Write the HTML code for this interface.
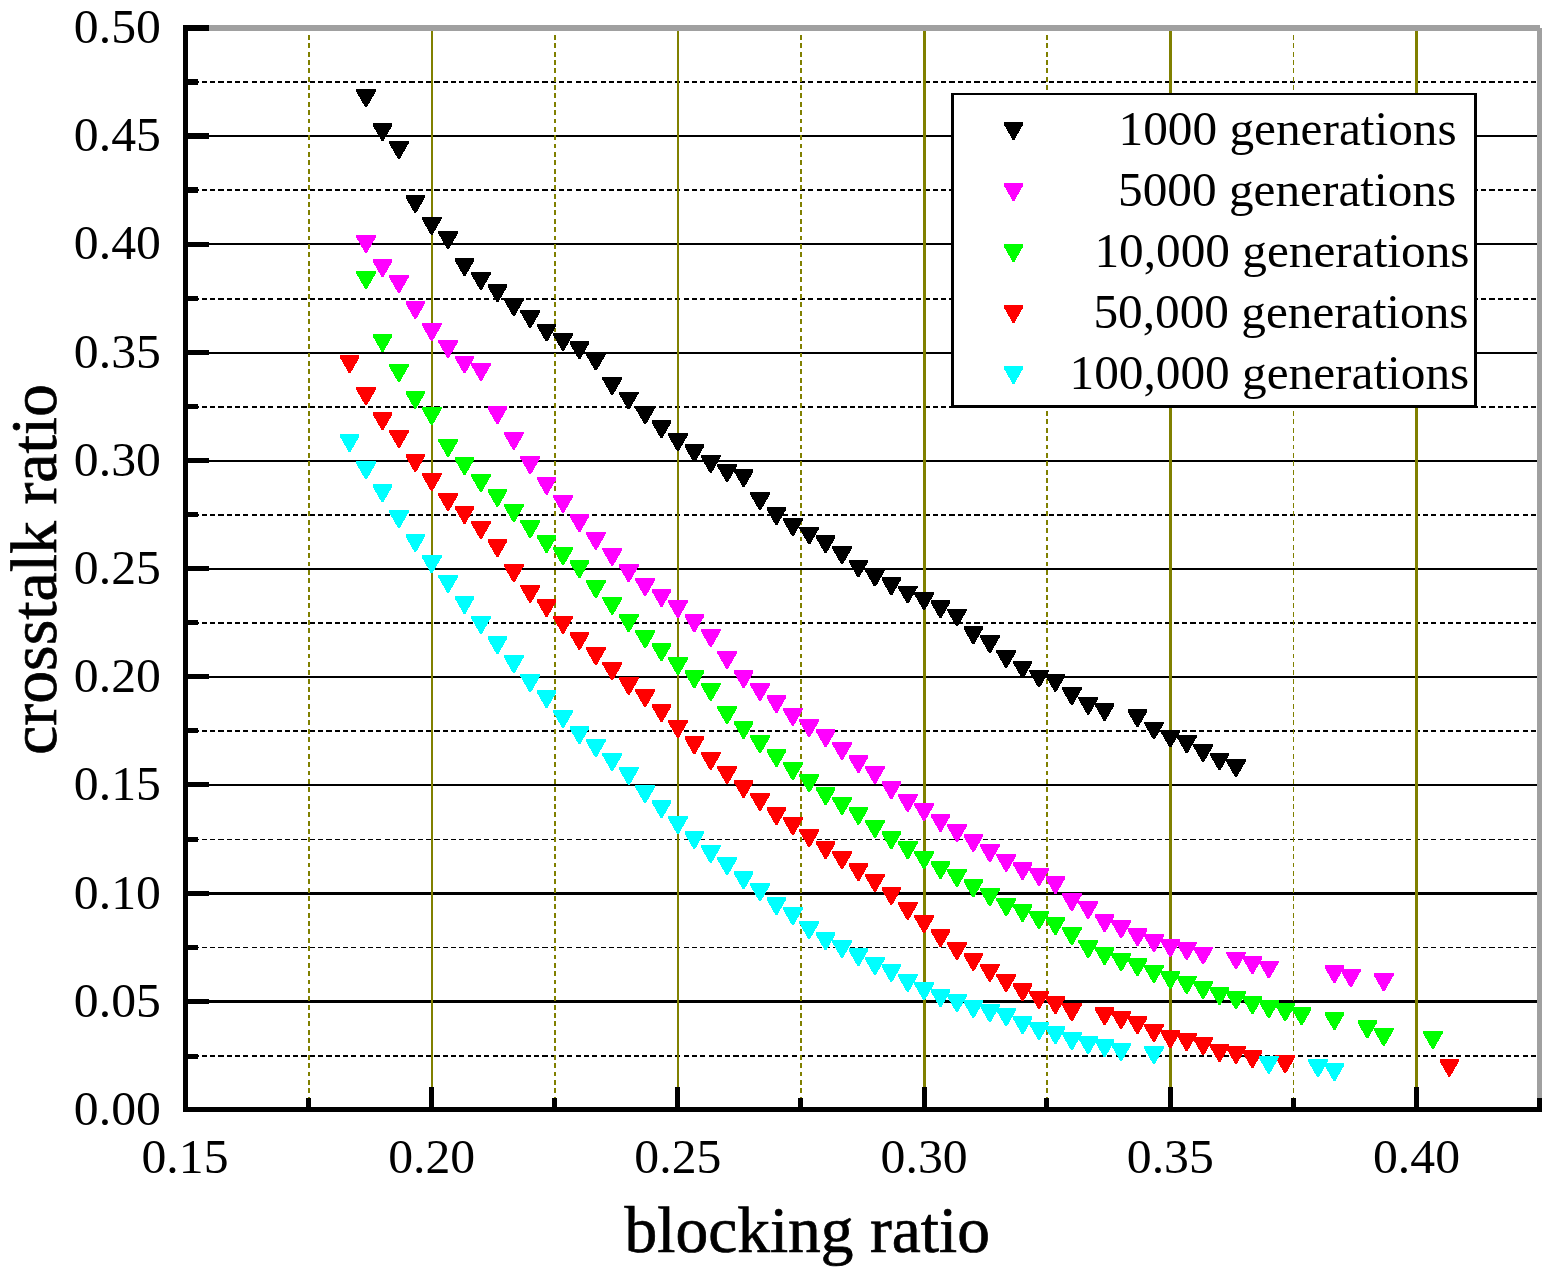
<!DOCTYPE html>
<html lang="en"><head><meta charset="utf-8"><title>crosstalk ratio vs blocking ratio</title>
<style>html,body{margin:0;padding:0;background:#fff;overflow:hidden}svg{display:block}text{font-family:"Liberation Serif",serif;fill:#000}</style></head><body>
<svg width="1551" height="1275" viewBox="0 0 1551 1275" role="img" aria-label="crosstalk ratio versus blocking ratio">
<rect x="0" y="0" width="1551" height="1275" fill="#fff"/>
<g shape-rendering="crispEdges" fill="none">
<line x1="193.5" y1="1056.0" x2="1536.2" y2="1056.0" stroke="#000" stroke-width="2" stroke-dasharray="5.1 3.2075"/>
<line x1="188" y1="1001.5" x2="1537" y2="1001.5" stroke="#000" stroke-width="3"/>
<line x1="193.5" y1="947.5" x2="1536.2" y2="947.5" stroke="#000" stroke-width="1" stroke-dasharray="5.1 3.2075"/>
<line x1="188" y1="893.5" x2="1537" y2="893.5" stroke="#000" stroke-width="3"/>
<line x1="193.5" y1="839.5" x2="1536.2" y2="839.5" stroke="#000" stroke-width="1" stroke-dasharray="5.1 3.2075"/>
<line x1="188" y1="785.0" x2="1537" y2="785.0" stroke="#000" stroke-width="2"/>
<line x1="193.5" y1="731.0" x2="1536.2" y2="731.0" stroke="#000" stroke-width="2" stroke-dasharray="5.1 3.2075"/>
<line x1="188" y1="677.0" x2="1537" y2="677.0" stroke="#000" stroke-width="2"/>
<line x1="193.5" y1="623.0" x2="1536.2" y2="623.0" stroke="#000" stroke-width="2" stroke-dasharray="5.1 3.2075"/>
<line x1="188" y1="569.0" x2="1537" y2="569.0" stroke="#000" stroke-width="2"/>
<line x1="193.5" y1="515.0" x2="1536.2" y2="515.0" stroke="#000" stroke-width="2" stroke-dasharray="5.1 3.2075"/>
<line x1="188" y1="461.0" x2="1537" y2="461.0" stroke="#000" stroke-width="2"/>
<line x1="193.5" y1="407.0" x2="1536.2" y2="407.0" stroke="#000" stroke-width="2" stroke-dasharray="5.1 3.2075"/>
<line x1="188" y1="353.0" x2="1537" y2="353.0" stroke="#000" stroke-width="2"/>
<line x1="193.5" y1="299.0" x2="1536.2" y2="299.0" stroke="#000" stroke-width="2" stroke-dasharray="5.1 3.2075"/>
<line x1="188" y1="244.0" x2="1537" y2="244.0" stroke="#000" stroke-width="2"/>
<line x1="193.5" y1="190.0" x2="1536.2" y2="190.0" stroke="#000" stroke-width="2" stroke-dasharray="5.1 3.2075"/>
<line x1="188" y1="136.0" x2="1537" y2="136.0" stroke="#000" stroke-width="2"/>
<line x1="193.5" y1="82.0" x2="1536.2" y2="82.0" stroke="#000" stroke-width="2" stroke-dasharray="5.1 3.2075"/>
<line x1="309.0" y1="26.55" x2="309.0" y2="1107" stroke="#808000" stroke-width="2" stroke-dasharray="4.9 3.46"/>
<line x1="432.0" y1="31" x2="432.0" y2="1107" stroke="#808000" stroke-width="2"/>
<line x1="555.0" y1="26.55" x2="555.0" y2="1107" stroke="#808000" stroke-width="2" stroke-dasharray="4.9 3.46"/>
<line x1="678.0" y1="31" x2="678.0" y2="1107" stroke="#808000" stroke-width="2"/>
<line x1="801.0" y1="26.55" x2="801.0" y2="1107" stroke="#808000" stroke-width="2" stroke-dasharray="4.9 3.46"/>
<line x1="924.5" y1="31" x2="924.5" y2="1107" stroke="#808000" stroke-width="3"/>
<line x1="1047.0" y1="26.55" x2="1047.0" y2="1107" stroke="#808000" stroke-width="2" stroke-dasharray="4.9 3.46"/>
<line x1="1170.5" y1="31" x2="1170.5" y2="1107" stroke="#808000" stroke-width="3"/>
<line x1="1293.5" y1="26.55" x2="1293.5" y2="1107" stroke="#808000" stroke-width="1" stroke-dasharray="4.9 3.46"/>
<line x1="1416.5" y1="31" x2="1416.5" y2="1107" stroke="#808000" stroke-width="3"/>
</g>
<g shape-rendering="crispEdges" stroke="none">
<g fill="#000000">
<polygon points="356.2,89.3 375.8,89.3 375.8,91.5 367.0,106.9 365.0,106.9 356.2,91.5"/>
<polygon points="372.7,123.3 392.3,123.3 392.3,125.5 383.5,140.9 381.5,140.9 372.7,125.5"/>
<polygon points="389.1,141.2 408.7,141.2 408.7,143.4 399.9,158.8 397.9,158.8 389.1,143.4"/>
<polygon points="405.5,195.2 425.1,195.2 425.1,197.4 416.3,212.8 414.3,212.8 405.5,197.4"/>
<polygon points="421.9,217.0 441.5,217.0 441.5,219.2 432.7,234.6 430.7,234.6 421.9,219.2"/>
<polygon points="438.3,231.3 457.9,231.3 457.9,233.5 449.1,248.9 447.1,248.9 438.3,233.5"/>
<polygon points="454.7,258.3 474.3,258.3 474.3,260.5 465.5,275.9 463.5,275.9 454.7,260.5"/>
<polygon points="471.1,272.2 490.7,272.2 490.7,274.4 481.9,289.8 479.9,289.8 471.1,274.4"/>
<polygon points="487.6,284.4 507.2,284.4 507.2,286.6 498.4,302.0 496.4,302.0 487.6,286.6"/>
<polygon points="504.0,298.4 523.6,298.4 523.6,300.6 514.8,316.0 512.8,316.0 504.0,300.6"/>
<polygon points="520.4,310.2 540.0,310.2 540.0,312.4 531.2,327.8 529.2,327.8 520.4,312.4"/>
<polygon points="536.8,323.6 556.4,323.6 556.4,325.8 547.6,341.2 545.6,341.2 536.8,325.8"/>
<polygon points="553.2,333.1 572.8,333.1 572.8,335.3 564.0,350.7 562.0,350.7 553.2,335.3"/>
<polygon points="569.6,341.3 589.2,341.3 589.2,343.5 580.4,358.9 578.4,358.9 569.6,343.5"/>
<polygon points="586.0,352.7 605.6,352.7 605.6,354.9 596.8,370.3 594.8,370.3 586.0,354.9"/>
<polygon points="602.4,377.2 622.0,377.2 622.0,379.4 613.2,394.8 611.2,394.8 602.4,379.4"/>
<polygon points="618.9,391.5 638.5,391.5 638.5,393.7 629.7,409.1 627.7,409.1 618.9,393.7"/>
<polygon points="635.3,406.4 654.9,406.4 654.9,408.6 646.1,424.0 644.1,424.0 635.3,408.6"/>
<polygon points="651.7,420.4 671.3,420.4 671.3,422.6 662.5,438.0 660.5,438.0 651.7,422.6"/>
<polygon points="668.1,433.4 687.7,433.4 687.7,435.6 678.9,451.0 676.9,451.0 668.1,435.6"/>
<polygon points="684.5,444.4 704.1,444.4 704.1,446.6 695.3,462.0 693.3,462.0 684.5,446.6"/>
<polygon points="700.9,455.1 720.5,455.1 720.5,457.3 711.7,472.7 709.7,472.7 700.9,457.3"/>
<polygon points="717.3,464.2 736.9,464.2 736.9,466.4 728.1,481.8 726.1,481.8 717.3,466.4"/>
<polygon points="733.8,469.3 753.4,469.3 753.4,471.5 744.6,486.9 742.6,486.9 733.8,471.5"/>
<polygon points="750.2,492.4 769.8,492.4 769.8,494.6 761.0,510.0 759.0,510.0 750.2,494.6"/>
<polygon points="766.6,507.3 786.2,507.3 786.2,509.5 777.4,524.9 775.4,524.9 766.6,509.5"/>
<polygon points="783.0,518.2 802.6,518.2 802.6,520.4 793.8,535.8 791.8,535.8 783.0,520.4"/>
<polygon points="799.4,526.5 819.0,526.5 819.0,528.7 810.2,544.1 808.2,544.1 799.4,528.7"/>
<polygon points="815.8,535.4 835.4,535.4 835.4,537.6 826.6,553.0 824.6,553.0 815.8,537.6"/>
<polygon points="832.2,546.3 851.8,546.3 851.8,548.5 843.0,563.9 841.0,563.9 832.2,548.5"/>
<polygon points="848.6,559.5 868.2,559.5 868.2,561.7 859.4,577.1 857.4,577.1 848.6,561.7"/>
<polygon points="865.1,568.8 884.7,568.8 884.7,571.0 875.9,586.4 873.9,586.4 865.1,571.0"/>
<polygon points="881.5,577.4 901.1,577.4 901.1,579.6 892.3,595.0 890.3,595.0 881.5,579.6"/>
<polygon points="897.9,585.5 917.5,585.5 917.5,587.7 908.7,603.1 906.7,603.1 897.9,587.7"/>
<polygon points="914.3,592.3 933.9,592.3 933.9,594.5 925.1,609.9 923.1,609.9 914.3,594.5"/>
<polygon points="930.7,600.4 950.3,600.4 950.3,602.6 941.5,618.0 939.5,618.0 930.7,602.6"/>
<polygon points="947.1,608.5 966.7,608.5 966.7,610.7 957.9,626.1 955.9,626.1 947.1,610.7"/>
<polygon points="963.5,626.4 983.1,626.4 983.1,628.6 974.3,644.0 972.3,644.0 963.5,628.6"/>
<polygon points="980.0,635.3 999.6,635.3 999.6,637.5 990.8,652.9 988.8,652.9 980.0,637.5"/>
<polygon points="996.4,650.2 1016.0,650.2 1016.0,652.4 1007.2,667.8 1005.2,667.8 996.4,652.4"/>
<polygon points="1012.8,660.5 1032.4,660.5 1032.4,662.7 1023.6,678.1 1021.6,678.1 1012.8,662.7"/>
<polygon points="1029.2,669.6 1048.8,669.6 1048.8,671.8 1040.0,687.2 1038.0,687.2 1029.2,671.8"/>
<polygon points="1045.6,674.1 1065.2,674.1 1065.2,676.3 1056.4,691.7 1054.4,691.7 1045.6,676.3"/>
<polygon points="1062.0,687.3 1081.6,687.3 1081.6,689.5 1072.8,704.9 1070.8,704.9 1062.0,689.5"/>
<polygon points="1078.4,697.0 1098.0,697.0 1098.0,699.2 1089.2,714.6 1087.2,714.6 1078.4,699.2"/>
<polygon points="1094.8,703.2 1114.4,703.2 1114.4,705.4 1105.6,720.8 1103.6,720.8 1094.8,705.4"/>
<polygon points="1127.7,709.4 1147.3,709.4 1147.3,711.6 1138.5,727.0 1136.5,727.0 1127.7,711.6"/>
<polygon points="1144.1,721.5 1163.7,721.5 1163.7,723.7 1154.9,739.1 1152.9,739.1 1144.1,723.7"/>
<polygon points="1160.5,729.6 1180.1,729.6 1180.1,731.8 1171.3,747.2 1169.3,747.2 1160.5,731.8"/>
<polygon points="1176.9,735.4 1196.5,735.4 1196.5,737.6 1187.7,753.0 1185.7,753.0 1176.9,737.6"/>
<polygon points="1193.3,744.2 1212.9,744.2 1212.9,746.4 1204.1,761.8 1202.1,761.8 1193.3,746.4"/>
<polygon points="1209.7,752.5 1229.3,752.5 1229.3,754.7 1220.5,770.1 1218.5,770.1 1209.7,754.7"/>
<polygon points="1226.2,759.3 1245.8,759.3 1245.8,761.5 1237.0,776.9 1235.0,776.9 1226.2,761.5"/>
</g>
<g fill="#ff00ff">
<polygon points="356.2,235.1 375.8,235.1 375.8,237.3 367.0,252.7 365.0,252.7 356.2,237.3"/>
<polygon points="372.7,259.2 392.3,259.2 392.3,261.4 383.5,276.8 381.5,276.8 372.7,261.4"/>
<polygon points="389.1,275.1 408.7,275.1 408.7,277.3 399.9,292.7 397.9,292.7 389.1,277.3"/>
<polygon points="405.5,301.1 425.1,301.1 425.1,303.3 416.3,318.7 414.3,318.7 405.5,303.3"/>
<polygon points="421.9,323.2 441.5,323.2 441.5,325.4 432.7,340.8 430.7,340.8 421.9,325.4"/>
<polygon points="438.3,340.1 457.9,340.1 457.9,342.3 449.1,357.7 447.1,357.7 438.3,342.3"/>
<polygon points="454.7,355.5 474.3,355.5 474.3,357.7 465.5,373.1 463.5,373.1 454.7,357.7"/>
<polygon points="471.1,363.0 490.7,363.0 490.7,365.2 481.9,380.6 479.9,380.6 471.1,365.2"/>
<polygon points="487.6,406.3 507.2,406.3 507.2,408.5 498.4,423.9 496.4,423.9 487.6,408.5"/>
<polygon points="504.0,432.0 523.6,432.0 523.6,434.2 514.8,449.6 512.8,449.6 504.0,434.2"/>
<polygon points="520.4,456.3 540.0,456.3 540.0,458.5 531.2,473.9 529.2,473.9 520.4,458.5"/>
<polygon points="536.8,477.0 556.4,477.0 556.4,479.2 547.6,494.6 545.6,494.6 536.8,479.2"/>
<polygon points="553.2,495.1 572.8,495.1 572.8,497.3 564.0,512.7 562.0,512.7 553.2,497.3"/>
<polygon points="569.6,514.3 589.2,514.3 589.2,516.5 580.4,531.9 578.4,531.9 569.6,516.5"/>
<polygon points="586.0,532.0 605.6,532.0 605.6,534.2 596.8,549.6 594.8,549.6 586.0,534.2"/>
<polygon points="602.4,548.1 622.0,548.1 622.0,550.3 613.2,565.7 611.2,565.7 602.4,550.3"/>
<polygon points="618.9,564.3 638.5,564.3 638.5,566.5 629.7,581.9 627.7,581.9 618.9,566.5"/>
<polygon points="635.3,578.3 654.9,578.3 654.9,580.5 646.1,595.9 644.1,595.9 635.3,580.5"/>
<polygon points="651.7,589.1 671.3,589.1 671.3,591.3 662.5,606.7 660.5,606.7 651.7,591.3"/>
<polygon points="668.1,600.2 687.7,600.2 687.7,602.4 678.9,617.8 676.9,617.8 668.1,602.4"/>
<polygon points="684.5,614.3 704.1,614.3 704.1,616.5 695.3,631.9 693.3,631.9 684.5,616.5"/>
<polygon points="700.9,629.1 720.5,629.1 720.5,631.3 711.7,646.7 709.7,646.7 700.9,631.3"/>
<polygon points="717.3,651.1 736.9,651.1 736.9,653.3 728.1,668.7 726.1,668.7 717.3,653.3"/>
<polygon points="733.8,670.3 753.4,670.3 753.4,672.5 744.6,687.9 742.6,687.9 733.8,672.5"/>
<polygon points="750.2,683.1 769.8,683.1 769.8,685.3 761.0,700.7 759.0,700.7 750.2,685.3"/>
<polygon points="766.6,695.3 786.2,695.3 786.2,697.5 777.4,712.9 775.4,712.9 766.6,697.5"/>
<polygon points="783.0,708.1 802.6,708.1 802.6,710.3 793.8,725.7 791.8,725.7 783.0,710.3"/>
<polygon points="799.4,719.2 819.0,719.2 819.0,721.4 810.2,736.8 808.2,736.8 799.4,721.4"/>
<polygon points="815.8,729.3 835.4,729.3 835.4,731.5 826.6,746.9 824.6,746.9 815.8,731.5"/>
<polygon points="832.2,742.2 851.8,742.2 851.8,744.4 843.0,759.8 841.0,759.8 832.2,744.4"/>
<polygon points="848.6,755.2 868.2,755.2 868.2,757.4 859.4,772.8 857.4,772.8 848.6,757.4"/>
<polygon points="865.1,766.2 884.7,766.2 884.7,768.4 875.9,783.8 873.9,783.8 865.1,768.4"/>
<polygon points="881.5,781.3 901.1,781.3 901.1,783.5 892.3,798.9 890.3,798.9 881.5,783.5"/>
<polygon points="897.9,794.1 917.5,794.1 917.5,796.3 908.7,811.7 906.7,811.7 897.9,796.3"/>
<polygon points="914.3,803.3 933.9,803.3 933.9,805.5 925.1,820.9 923.1,820.9 914.3,805.5"/>
<polygon points="930.7,814.0 950.3,814.0 950.3,816.2 941.5,831.6 939.5,831.6 930.7,816.2"/>
<polygon points="947.1,824.3 966.7,824.3 966.7,826.5 957.9,841.9 955.9,841.9 947.1,826.5"/>
<polygon points="963.5,834.2 983.1,834.2 983.1,836.4 974.3,851.8 972.3,851.8 963.5,836.4"/>
<polygon points="980.0,844.3 999.6,844.3 999.6,846.5 990.8,861.9 988.8,861.9 980.0,846.5"/>
<polygon points="996.4,854.0 1016.0,854.0 1016.0,856.2 1007.2,871.6 1005.2,871.6 996.4,856.2"/>
<polygon points="1012.8,862.2 1032.4,862.2 1032.4,864.4 1023.6,879.8 1021.6,879.8 1012.8,864.4"/>
<polygon points="1029.2,868.2 1048.8,868.2 1048.8,870.4 1040.0,885.8 1038.0,885.8 1029.2,870.4"/>
<polygon points="1045.6,876.3 1065.2,876.3 1065.2,878.5 1056.4,893.9 1054.4,893.9 1045.6,878.5"/>
<polygon points="1062.0,893.4 1081.6,893.4 1081.6,895.6 1072.8,911.0 1070.8,911.0 1062.0,895.6"/>
<polygon points="1078.4,901.2 1098.0,901.2 1098.0,903.4 1089.2,918.8 1087.2,918.8 1078.4,903.4"/>
<polygon points="1094.8,914.3 1114.4,914.3 1114.4,916.5 1105.6,931.9 1103.6,931.9 1094.8,916.5"/>
<polygon points="1111.3,920.4 1130.9,920.4 1130.9,922.6 1122.1,938.0 1120.1,938.0 1111.3,922.6"/>
<polygon points="1127.7,928.3 1147.3,928.3 1147.3,930.5 1138.5,945.9 1136.5,945.9 1127.7,930.5"/>
<polygon points="1144.1,934.3 1163.7,934.3 1163.7,936.5 1154.9,951.9 1152.9,951.9 1144.1,936.5"/>
<polygon points="1160.5,939.2 1180.1,939.2 1180.1,941.4 1171.3,956.8 1169.3,956.8 1160.5,941.4"/>
<polygon points="1176.9,942.1 1196.5,942.1 1196.5,944.3 1187.7,959.7 1185.7,959.7 1176.9,944.3"/>
<polygon points="1193.3,946.5 1212.9,946.5 1212.9,948.7 1204.1,964.1 1202.1,964.1 1193.3,948.7"/>
<polygon points="1226.2,951.5 1245.8,951.5 1245.8,953.7 1237.0,969.1 1235.0,969.1 1226.2,953.7"/>
<polygon points="1242.6,956.3 1262.2,956.3 1262.2,958.5 1253.4,973.9 1251.4,973.9 1242.6,958.5"/>
<polygon points="1259.0,960.5 1278.6,960.5 1278.6,962.7 1269.8,978.1 1267.8,978.1 1259.0,962.7"/>
<polygon points="1324.6,965.2 1344.2,965.2 1344.2,967.4 1335.4,982.8 1333.4,982.8 1324.6,967.4"/>
<polygon points="1341.0,969.3 1360.6,969.3 1360.6,971.5 1351.8,986.9 1349.8,986.9 1341.0,971.5"/>
<polygon points="1373.9,973.4 1393.5,973.4 1393.5,975.6 1384.7,991.0 1382.7,991.0 1373.9,975.6"/>
</g>
<g fill="#00ff00">
<polygon points="356.2,271.2 375.8,271.2 375.8,273.4 367.0,288.8 365.0,288.8 356.2,273.4"/>
<polygon points="372.7,334.1 392.3,334.1 392.3,336.3 383.5,351.7 381.5,351.7 372.7,336.3"/>
<polygon points="389.1,364.2 408.7,364.2 408.7,366.4 399.9,381.8 397.9,381.8 389.1,366.4"/>
<polygon points="405.5,391.0 425.1,391.0 425.1,393.2 416.3,408.6 414.3,408.6 405.5,393.2"/>
<polygon points="421.9,407.1 441.5,407.1 441.5,409.3 432.7,424.7 430.7,424.7 421.9,409.3"/>
<polygon points="438.3,439.1 457.9,439.1 457.9,441.3 449.1,456.7 447.1,456.7 438.3,441.3"/>
<polygon points="454.7,457.2 474.3,457.2 474.3,459.4 465.5,474.8 463.5,474.8 454.7,459.4"/>
<polygon points="471.1,474.2 490.7,474.2 490.7,476.4 481.9,491.8 479.9,491.8 471.1,476.4"/>
<polygon points="487.6,489.1 507.2,489.1 507.2,491.3 498.4,506.7 496.4,506.7 487.6,491.3"/>
<polygon points="504.0,504.2 523.6,504.2 523.6,506.4 514.8,521.8 512.8,521.8 504.0,506.4"/>
<polygon points="520.4,520.3 540.0,520.3 540.0,522.5 531.2,537.9 529.2,537.9 520.4,522.5"/>
<polygon points="536.8,535.1 556.4,535.1 556.4,537.3 547.6,552.7 545.6,552.7 536.8,537.3"/>
<polygon points="553.2,547.3 572.8,547.3 572.8,549.5 564.0,564.9 562.0,564.9 553.2,549.5"/>
<polygon points="569.6,560.3 589.2,560.3 589.2,562.5 580.4,577.9 578.4,577.9 569.6,562.5"/>
<polygon points="586.0,580.3 605.6,580.3 605.6,582.5 596.8,597.9 594.8,597.9 586.0,582.5"/>
<polygon points="602.4,597.0 622.0,597.0 622.0,599.2 613.2,614.6 611.2,614.6 602.4,599.2"/>
<polygon points="618.9,614.3 638.5,614.3 638.5,616.5 629.7,631.9 627.7,631.9 618.9,616.5"/>
<polygon points="635.3,630.4 654.9,630.4 654.9,632.6 646.1,648.0 644.1,648.0 635.3,632.6"/>
<polygon points="651.7,643.4 671.3,643.4 671.3,645.6 662.5,661.0 660.5,661.0 651.7,645.6"/>
<polygon points="668.1,657.3 687.7,657.3 687.7,659.5 678.9,674.9 676.9,674.9 668.1,659.5"/>
<polygon points="684.5,670.3 704.1,670.3 704.1,672.5 695.3,687.9 693.3,687.9 684.5,672.5"/>
<polygon points="700.9,683.1 720.5,683.1 720.5,685.3 711.7,700.7 709.7,700.7 700.9,685.3"/>
<polygon points="717.3,706.2 736.9,706.2 736.9,708.4 728.1,723.8 726.1,723.8 717.3,708.4"/>
<polygon points="733.8,721.2 753.4,721.2 753.4,723.4 744.6,738.8 742.6,738.8 733.8,723.4"/>
<polygon points="750.2,735.3 769.8,735.3 769.8,737.5 761.0,752.9 759.0,752.9 750.2,737.5"/>
<polygon points="766.6,749.2 786.2,749.2 786.2,751.4 777.4,766.8 775.4,766.8 766.6,751.4"/>
<polygon points="783.0,762.2 802.6,762.2 802.6,764.4 793.8,779.8 791.8,779.8 783.0,764.4"/>
<polygon points="799.4,774.4 819.0,774.4 819.0,776.6 810.2,792.0 808.2,792.0 799.4,776.6"/>
<polygon points="815.8,787.3 835.4,787.3 835.4,789.5 826.6,804.9 824.6,804.9 815.8,789.5"/>
<polygon points="832.2,797.1 851.8,797.1 851.8,799.3 843.0,814.7 841.0,814.7 832.2,799.3"/>
<polygon points="848.6,807.1 868.2,807.1 868.2,809.3 859.4,824.7 857.4,824.7 848.6,809.3"/>
<polygon points="865.1,820.0 884.7,820.0 884.7,822.2 875.9,837.6 873.9,837.6 865.1,822.2"/>
<polygon points="881.5,831.3 901.1,831.3 901.1,833.5 892.3,848.9 890.3,848.9 881.5,833.5"/>
<polygon points="897.9,841.4 917.5,841.4 917.5,843.6 908.7,859.0 906.7,859.0 897.9,843.6"/>
<polygon points="914.3,851.3 933.9,851.3 933.9,853.5 925.1,868.9 923.1,868.9 914.3,853.5"/>
<polygon points="930.7,861.2 950.3,861.2 950.3,863.4 941.5,878.8 939.5,878.8 930.7,863.4"/>
<polygon points="947.1,869.2 966.7,869.2 966.7,871.4 957.9,886.8 955.9,886.8 947.1,871.4"/>
<polygon points="963.5,879.3 983.1,879.3 983.1,881.5 974.3,896.9 972.3,896.9 963.5,881.5"/>
<polygon points="980.0,888.2 999.6,888.2 999.6,890.4 990.8,905.8 988.8,905.8 980.0,890.4"/>
<polygon points="996.4,898.3 1016.0,898.3 1016.0,900.5 1007.2,915.9 1005.2,915.9 996.4,900.5"/>
<polygon points="1012.8,904.1 1032.4,904.1 1032.4,906.3 1023.6,921.7 1021.6,921.7 1012.8,906.3"/>
<polygon points="1029.2,911.3 1048.8,911.3 1048.8,913.5 1040.0,928.9 1038.0,928.9 1029.2,913.5"/>
<polygon points="1045.6,917.3 1065.2,917.3 1065.2,919.5 1056.4,934.9 1054.4,934.9 1045.6,919.5"/>
<polygon points="1062.0,927.2 1081.6,927.2 1081.6,929.4 1072.8,944.8 1070.8,944.8 1062.0,929.4"/>
<polygon points="1078.4,940.3 1098.0,940.3 1098.0,942.5 1089.2,957.9 1087.2,957.9 1078.4,942.5"/>
<polygon points="1094.8,947.2 1114.4,947.2 1114.4,949.4 1105.6,964.8 1103.6,964.8 1094.8,949.4"/>
<polygon points="1111.3,953.4 1130.9,953.4 1130.9,955.6 1122.1,971.0 1120.1,971.0 1111.3,955.6"/>
<polygon points="1127.7,958.4 1147.3,958.4 1147.3,960.6 1138.5,976.0 1136.5,976.0 1127.7,960.6"/>
<polygon points="1144.1,965.2 1163.7,965.2 1163.7,967.4 1154.9,982.8 1152.9,982.8 1144.1,967.4"/>
<polygon points="1160.5,971.2 1180.1,971.2 1180.1,973.4 1171.3,988.8 1169.3,988.8 1160.5,973.4"/>
<polygon points="1176.9,976.2 1196.5,976.2 1196.5,978.4 1187.7,993.8 1185.7,993.8 1176.9,978.4"/>
<polygon points="1193.3,981.3 1212.9,981.3 1212.9,983.5 1204.1,998.9 1202.1,998.9 1193.3,983.5"/>
<polygon points="1209.7,987.3 1229.3,987.3 1229.3,989.5 1220.5,1004.9 1218.5,1004.9 1209.7,989.5"/>
<polygon points="1226.2,991.3 1245.8,991.3 1245.8,993.5 1237.0,1008.9 1235.0,1008.9 1226.2,993.5"/>
<polygon points="1242.6,996.4 1262.2,996.4 1262.2,998.6 1253.4,1014.0 1251.4,1014.0 1242.6,998.6"/>
<polygon points="1259.0,1000.4 1278.6,1000.4 1278.6,1002.6 1269.8,1018.0 1267.8,1018.0 1259.0,1002.6"/>
<polygon points="1275.4,1003.4 1295.0,1003.4 1295.0,1005.6 1286.2,1021.0 1284.2,1021.0 1275.4,1005.6"/>
<polygon points="1291.8,1007.4 1311.4,1007.4 1311.4,1009.6 1302.6,1025.0 1300.6,1025.0 1291.8,1009.6"/>
<polygon points="1324.6,1012.2 1344.2,1012.2 1344.2,1014.4 1335.4,1029.8 1333.4,1029.8 1324.6,1014.4"/>
<polygon points="1357.5,1020.3 1377.1,1020.3 1377.1,1022.5 1368.3,1037.9 1366.3,1037.9 1357.5,1022.5"/>
<polygon points="1373.9,1028.2 1393.5,1028.2 1393.5,1030.4 1384.7,1045.8 1382.7,1045.8 1373.9,1030.4"/>
<polygon points="1423.1,1031.2 1442.7,1031.2 1442.7,1033.4 1433.9,1048.8 1431.9,1048.8 1423.1,1033.4"/>
</g>
<g fill="#ff0000">
<polygon points="339.8,355.3 359.4,355.3 359.4,357.5 350.6,372.9 348.6,372.9 339.8,357.5"/>
<polygon points="356.2,387.3 375.8,387.3 375.8,389.5 367.0,404.9 365.0,404.9 356.2,389.5"/>
<polygon points="372.7,412.3 392.3,412.3 392.3,414.5 383.5,429.9 381.5,429.9 372.7,414.5"/>
<polygon points="389.1,430.0 408.7,430.0 408.7,432.2 399.9,447.6 397.9,447.6 389.1,432.2"/>
<polygon points="405.5,454.2 425.1,454.2 425.1,456.4 416.3,471.8 414.3,471.8 405.5,456.4"/>
<polygon points="421.9,473.2 441.5,473.2 441.5,475.4 432.7,490.8 430.7,490.8 421.9,475.4"/>
<polygon points="438.3,493.2 457.9,493.2 457.9,495.4 449.1,510.8 447.1,510.8 438.3,495.4"/>
<polygon points="454.7,506.0 474.3,506.0 474.3,508.2 465.5,523.6 463.5,523.6 454.7,508.2"/>
<polygon points="471.1,521.1 490.7,521.1 490.7,523.3 481.9,538.7 479.9,538.7 471.1,523.3"/>
<polygon points="487.6,539.2 507.2,539.2 507.2,541.4 498.4,556.8 496.4,556.8 487.6,541.4"/>
<polygon points="504.0,564.4 523.6,564.4 523.6,566.6 514.8,582.0 512.8,582.0 504.0,566.6"/>
<polygon points="520.4,585.0 540.0,585.0 540.0,587.2 531.2,602.6 529.2,602.6 520.4,587.2"/>
<polygon points="536.8,599.1 556.4,599.1 556.4,601.3 547.6,616.7 545.6,616.7 536.8,601.3"/>
<polygon points="553.2,616.0 572.8,616.0 572.8,618.2 564.0,633.6 562.0,633.6 553.2,618.2"/>
<polygon points="569.6,632.1 589.2,632.1 589.2,634.3 580.4,649.7 578.4,649.7 569.6,634.3"/>
<polygon points="586.0,647.4 605.6,647.4 605.6,649.6 596.8,665.0 594.8,665.0 586.0,649.6"/>
<polygon points="602.4,662.3 622.0,662.3 622.0,664.5 613.2,679.9 611.2,679.9 602.4,664.5"/>
<polygon points="618.9,677.2 638.5,677.2 638.5,679.4 629.7,694.8 627.7,694.8 618.9,679.4"/>
<polygon points="635.3,689.3 654.9,689.3 654.9,691.5 646.1,706.9 644.1,706.9 635.3,691.5"/>
<polygon points="651.7,704.3 671.3,704.3 671.3,706.5 662.5,721.9 660.5,721.9 651.7,706.5"/>
<polygon points="668.1,720.2 687.7,720.2 687.7,722.4 678.9,737.8 676.9,737.8 668.1,722.4"/>
<polygon points="684.5,736.3 704.1,736.3 704.1,738.5 695.3,753.9 693.3,753.9 684.5,738.5"/>
<polygon points="700.9,752.2 720.5,752.2 720.5,754.4 711.7,769.8 709.7,769.8 700.9,754.4"/>
<polygon points="717.3,766.2 736.9,766.2 736.9,768.4 728.1,783.8 726.1,783.8 717.3,768.4"/>
<polygon points="733.8,780.2 753.4,780.2 753.4,782.4 744.6,797.8 742.6,797.8 733.8,782.4"/>
<polygon points="750.2,793.2 769.8,793.2 769.8,795.4 761.0,810.8 759.0,810.8 750.2,795.4"/>
<polygon points="766.6,807.2 786.2,807.2 786.2,809.4 777.4,824.8 775.4,824.8 766.6,809.4"/>
<polygon points="783.0,817.3 802.6,817.3 802.6,819.5 793.8,834.9 791.8,834.9 783.0,819.5"/>
<polygon points="799.4,829.3 819.0,829.3 819.0,831.5 810.2,846.9 808.2,846.9 799.4,831.5"/>
<polygon points="815.8,841.3 835.4,841.3 835.4,843.5 826.6,858.9 824.6,858.9 815.8,843.5"/>
<polygon points="832.2,851.3 851.8,851.3 851.8,853.5 843.0,868.9 841.0,868.9 832.2,853.5"/>
<polygon points="848.6,863.3 868.2,863.3 868.2,865.5 859.4,880.9 857.4,880.9 848.6,865.5"/>
<polygon points="865.1,874.2 884.7,874.2 884.7,876.4 875.9,891.8 873.9,891.8 865.1,876.4"/>
<polygon points="881.5,887.2 901.1,887.2 901.1,889.4 892.3,904.8 890.3,904.8 881.5,889.4"/>
<polygon points="897.9,902.2 917.5,902.2 917.5,904.4 908.7,919.8 906.7,919.8 897.9,904.4"/>
<polygon points="914.3,915.2 933.9,915.2 933.9,917.4 925.1,932.8 923.1,932.8 914.3,917.4"/>
<polygon points="930.7,929.3 950.3,929.3 950.3,931.5 941.5,946.9 939.5,946.9 930.7,931.5"/>
<polygon points="947.1,942.3 966.7,942.3 966.7,944.5 957.9,959.9 955.9,959.9 947.1,944.5"/>
<polygon points="963.5,953.2 983.1,953.2 983.1,955.4 974.3,970.8 972.3,970.8 963.5,955.4"/>
<polygon points="980.0,964.1 999.6,964.1 999.6,966.3 990.8,981.7 988.8,981.7 980.0,966.3"/>
<polygon points="996.4,974.2 1016.0,974.2 1016.0,976.4 1007.2,991.8 1005.2,991.8 996.4,976.4"/>
<polygon points="1012.8,983.4 1032.4,983.4 1032.4,985.6 1023.6,1001.0 1021.6,1001.0 1012.8,985.6"/>
<polygon points="1029.2,991.2 1048.8,991.2 1048.8,993.4 1040.0,1008.8 1038.0,1008.8 1029.2,993.4"/>
<polygon points="1045.6,996.2 1065.2,996.2 1065.2,998.4 1056.4,1013.8 1054.4,1013.8 1045.6,998.4"/>
<polygon points="1062.0,1003.3 1081.6,1003.3 1081.6,1005.5 1072.8,1020.9 1070.8,1020.9 1062.0,1005.5"/>
<polygon points="1094.8,1007.4 1114.4,1007.4 1114.4,1009.6 1105.6,1025.0 1103.6,1025.0 1094.8,1009.6"/>
<polygon points="1111.3,1011.3 1130.9,1011.3 1130.9,1013.5 1122.1,1028.9 1120.1,1028.9 1111.3,1013.5"/>
<polygon points="1127.7,1016.4 1147.3,1016.4 1147.3,1018.6 1138.5,1034.0 1136.5,1034.0 1127.7,1018.6"/>
<polygon points="1144.1,1024.1 1163.7,1024.1 1163.7,1026.3 1154.9,1041.7 1152.9,1041.7 1144.1,1026.3"/>
<polygon points="1160.5,1030.3 1180.1,1030.3 1180.1,1032.5 1171.3,1047.9 1169.3,1047.9 1160.5,1032.5"/>
<polygon points="1176.9,1033.3 1196.5,1033.3 1196.5,1035.5 1187.7,1050.9 1185.7,1050.9 1176.9,1035.5"/>
<polygon points="1193.3,1037.4 1212.9,1037.4 1212.9,1039.6 1204.1,1055.0 1202.1,1055.0 1193.3,1039.6"/>
<polygon points="1209.7,1044.2 1229.3,1044.2 1229.3,1046.4 1220.5,1061.8 1218.5,1061.8 1209.7,1046.4"/>
<polygon points="1226.2,1046.2 1245.8,1046.2 1245.8,1048.4 1237.0,1063.8 1235.0,1063.8 1226.2,1048.4"/>
<polygon points="1242.6,1050.3 1262.2,1050.3 1262.2,1052.5 1253.4,1067.9 1251.4,1067.9 1242.6,1052.5"/>
<polygon points="1275.4,1055.4 1295.0,1055.4 1295.0,1057.6 1286.2,1073.0 1284.2,1073.0 1275.4,1057.6"/>
<polygon points="1439.5,1059.0 1459.1,1059.0 1459.1,1061.2 1450.3,1076.6 1448.3,1076.6 1439.5,1061.2"/>
</g>
<g fill="#00ffff">
<polygon points="339.8,434.1 359.4,434.1 359.4,436.3 350.6,451.7 348.6,451.7 339.8,436.3"/>
<polygon points="356.2,461.3 375.8,461.3 375.8,463.5 367.0,478.9 365.0,478.9 356.2,463.5"/>
<polygon points="372.7,484.4 392.3,484.4 392.3,486.6 383.5,502.0 381.5,502.0 372.7,486.6"/>
<polygon points="389.1,510.2 408.7,510.2 408.7,512.4 399.9,527.8 397.9,527.8 389.1,512.4"/>
<polygon points="405.5,534.1 425.1,534.1 425.1,536.3 416.3,551.7 414.3,551.7 405.5,536.3"/>
<polygon points="421.9,555.3 441.5,555.3 441.5,557.5 432.7,572.9 430.7,572.9 421.9,557.5"/>
<polygon points="438.3,575.1 457.9,575.1 457.9,577.3 449.1,592.7 447.1,592.7 438.3,577.3"/>
<polygon points="454.7,596.0 474.3,596.0 474.3,598.2 465.5,613.6 463.5,613.6 454.7,598.2"/>
<polygon points="471.1,616.0 490.7,616.0 490.7,618.2 481.9,633.6 479.9,633.6 471.1,618.2"/>
<polygon points="487.6,636.2 507.2,636.2 507.2,638.4 498.4,653.8 496.4,653.8 487.6,638.4"/>
<polygon points="504.0,655.4 523.6,655.4 523.6,657.6 514.8,673.0 512.8,673.0 504.0,657.6"/>
<polygon points="520.4,674.3 540.0,674.3 540.0,676.5 531.2,691.9 529.2,691.9 520.4,676.5"/>
<polygon points="536.8,690.2 556.4,690.2 556.4,692.4 547.6,707.8 545.6,707.8 536.8,692.4"/>
<polygon points="553.2,710.2 572.8,710.2 572.8,712.4 564.0,727.8 562.0,727.8 553.2,712.4"/>
<polygon points="569.6,726.3 589.2,726.3 589.2,728.5 580.4,743.9 578.4,743.9 569.6,728.5"/>
<polygon points="586.0,739.3 605.6,739.3 605.6,741.5 596.8,756.9 594.8,756.9 586.0,741.5"/>
<polygon points="602.4,753.2 622.0,753.2 622.0,755.4 613.2,770.8 611.2,770.8 602.4,755.4"/>
<polygon points="618.9,767.2 638.5,767.2 638.5,769.4 629.7,784.8 627.7,784.8 618.9,769.4"/>
<polygon points="635.3,785.3 654.9,785.3 654.9,787.5 646.1,802.9 644.1,802.9 635.3,787.5"/>
<polygon points="651.7,800.3 671.3,800.3 671.3,802.5 662.5,817.9 660.5,817.9 651.7,802.5"/>
<polygon points="668.1,816.1 687.7,816.1 687.7,818.3 678.9,833.7 676.9,833.7 668.1,818.3"/>
<polygon points="684.5,831.1 704.1,831.1 704.1,833.3 695.3,848.7 693.3,848.7 684.5,833.3"/>
<polygon points="700.9,845.2 720.5,845.2 720.5,847.4 711.7,862.8 709.7,862.8 700.9,847.4"/>
<polygon points="717.3,857.3 736.9,857.3 736.9,859.5 728.1,874.9 726.1,874.9 717.3,859.5"/>
<polygon points="733.8,871.4 753.4,871.4 753.4,873.6 744.6,889.0 742.6,889.0 733.8,873.6"/>
<polygon points="750.2,883.3 769.8,883.3 769.8,885.5 761.0,900.9 759.0,900.9 750.2,885.5"/>
<polygon points="766.6,897.2 786.2,897.2 786.2,899.4 777.4,914.8 775.4,914.8 766.6,899.4"/>
<polygon points="783.0,907.3 802.6,907.3 802.6,909.5 793.8,924.9 791.8,924.9 783.0,909.5"/>
<polygon points="799.4,921.2 819.0,921.2 819.0,923.4 810.2,938.8 808.2,938.8 799.4,923.4"/>
<polygon points="815.8,932.4 835.4,932.4 835.4,934.6 826.6,950.0 824.6,950.0 815.8,934.6"/>
<polygon points="832.2,940.2 851.8,940.2 851.8,942.4 843.0,957.8 841.0,957.8 832.2,942.4"/>
<polygon points="848.6,948.3 868.2,948.3 868.2,950.5 859.4,965.9 857.4,965.9 848.6,950.5"/>
<polygon points="865.1,957.3 884.7,957.3 884.7,959.5 875.9,974.9 873.9,974.9 865.1,959.5"/>
<polygon points="881.5,964.1 901.1,964.1 901.1,966.3 892.3,981.7 890.3,981.7 881.5,966.3"/>
<polygon points="897.9,974.2 917.5,974.2 917.5,976.4 908.7,991.8 906.7,991.8 897.9,976.4"/>
<polygon points="914.3,982.3 933.9,982.3 933.9,984.5 925.1,999.9 923.1,999.9 914.3,984.5"/>
<polygon points="930.7,989.3 950.3,989.3 950.3,991.5 941.5,1006.9 939.5,1006.9 930.7,991.5"/>
<polygon points="947.1,994.3 966.7,994.3 966.7,996.5 957.9,1011.9 955.9,1011.9 947.1,996.5"/>
<polygon points="963.5,1000.2 983.1,1000.2 983.1,1002.4 974.3,1017.8 972.3,1017.8 963.5,1002.4"/>
<polygon points="980.0,1004.3 999.6,1004.3 999.6,1006.5 990.8,1021.9 988.8,1021.9 980.0,1006.5"/>
<polygon points="996.4,1008.4 1016.0,1008.4 1016.0,1010.6 1007.2,1026.0 1005.2,1026.0 996.4,1010.6"/>
<polygon points="1012.8,1016.3 1032.4,1016.3 1032.4,1018.5 1023.6,1033.9 1021.6,1033.9 1012.8,1018.5"/>
<polygon points="1029.2,1022.2 1048.8,1022.2 1048.8,1024.4 1040.0,1039.8 1038.0,1039.8 1029.2,1024.4"/>
<polygon points="1045.6,1026.4 1065.2,1026.4 1065.2,1028.6 1056.4,1044.0 1054.4,1044.0 1045.6,1028.6"/>
<polygon points="1062.0,1032.4 1081.6,1032.4 1081.6,1034.6 1072.8,1050.0 1070.8,1050.0 1062.0,1034.6"/>
<polygon points="1078.4,1036.4 1098.0,1036.4 1098.0,1038.6 1089.2,1054.0 1087.2,1054.0 1078.4,1038.6"/>
<polygon points="1094.8,1039.2 1114.4,1039.2 1114.4,1041.4 1105.6,1056.8 1103.6,1056.8 1094.8,1041.4"/>
<polygon points="1111.3,1043.2 1130.9,1043.2 1130.9,1045.4 1122.1,1060.8 1120.1,1060.8 1111.3,1045.4"/>
<polygon points="1144.1,1046.3 1163.7,1046.3 1163.7,1048.5 1154.9,1063.9 1152.9,1063.9 1144.1,1048.5"/>
<polygon points="1259.0,1056.1 1278.6,1056.1 1278.6,1058.3 1269.8,1073.7 1267.8,1073.7 1259.0,1058.3"/>
<polygon points="1308.2,1059.3 1327.8,1059.3 1327.8,1061.5 1319.0,1076.9 1317.0,1076.9 1308.2,1061.5"/>
<polygon points="1324.6,1063.2 1344.2,1063.2 1344.2,1065.4 1335.4,1080.8 1333.4,1080.8 1324.6,1065.4"/>
</g>
</g>
<g shape-rendering="crispEdges">
<rect x="188" y="25" width="1352" height="6" fill="#a0a0a0"/>
<rect x="1537" y="28" width="5" height="1080" fill="#a0a0a0"/>
<rect x="183" y="25" width="5" height="1087" fill="#000"/>
<rect x="183" y="1107" width="1359" height="5" fill="#000"/>
<rect x="188" y="25" width="21" height="6" fill="#000"/>
<rect x="188" y="1054" width="10" height="5" fill="#000"/>
<rect x="188" y="999" width="21" height="5" fill="#000"/>
<rect x="188" y="945" width="10" height="5" fill="#000"/>
<rect x="188" y="891" width="21" height="5" fill="#000"/>
<rect x="188" y="837" width="10" height="5" fill="#000"/>
<rect x="188" y="782" width="21" height="5" fill="#000"/>
<rect x="188" y="728" width="10" height="5" fill="#000"/>
<rect x="188" y="674" width="21" height="5" fill="#000"/>
<rect x="188" y="620" width="10" height="5" fill="#000"/>
<rect x="188" y="566" width="21" height="5" fill="#000"/>
<rect x="188" y="512" width="10" height="5" fill="#000"/>
<rect x="188" y="458" width="21" height="5" fill="#000"/>
<rect x="188" y="404" width="10" height="5" fill="#000"/>
<rect x="188" y="350" width="21" height="5" fill="#000"/>
<rect x="188" y="296" width="10" height="5" fill="#000"/>
<rect x="188" y="242" width="21" height="5" fill="#000"/>
<rect x="188" y="187" width="10" height="6" fill="#000"/>
<rect x="188" y="133" width="21" height="6" fill="#000"/>
<rect x="188" y="79" width="10" height="6" fill="#000"/>
<rect x="306" y="1098" width="5" height="9" fill="#000"/>
<rect x="429" y="1087" width="5" height="20" fill="#000"/>
<rect x="552" y="1098" width="5" height="9" fill="#000"/>
<rect x="675" y="1087" width="5" height="20" fill="#000"/>
<rect x="798" y="1098" width="5" height="9" fill="#000"/>
<rect x="922" y="1087" width="5" height="20" fill="#000"/>
<rect x="1044" y="1098" width="5" height="9" fill="#000"/>
<rect x="1168" y="1087" width="5" height="20" fill="#000"/>
<rect x="1291" y="1098" width="5" height="9" fill="#000"/>
<rect x="1414" y="1087" width="5" height="20" fill="#000"/>
<rect x="1537" y="1098" width="5" height="14" fill="#000"/>
</g>
<text transform="translate(160.9,1124.80) scale(1.0370,1)" font-size="48.00" text-anchor="end">0.00</text>
<text transform="translate(160.9,1016.80) scale(1.0370,1)" font-size="48.00" text-anchor="end">0.05</text>
<text transform="translate(160.9,908.80) scale(1.0370,1)" font-size="48.00" text-anchor="end">0.10</text>
<text transform="translate(160.9,800.30) scale(1.0370,1)" font-size="48.00" text-anchor="end">0.15</text>
<text transform="translate(160.9,692.30) scale(1.0370,1)" font-size="48.00" text-anchor="end">0.20</text>
<text transform="translate(160.9,584.30) scale(1.0370,1)" font-size="48.00" text-anchor="end">0.25</text>
<text transform="translate(160.9,476.30) scale(1.0370,1)" font-size="48.00" text-anchor="end">0.30</text>
<text transform="translate(160.9,368.30) scale(1.0370,1)" font-size="48.00" text-anchor="end">0.35</text>
<text transform="translate(160.9,259.30) scale(1.0370,1)" font-size="48.00" text-anchor="end">0.40</text>
<text transform="translate(160.9,151.30) scale(1.0370,1)" font-size="48.00" text-anchor="end">0.45</text>
<text transform="translate(160.9,43.30) scale(1.0370,1)" font-size="48.00" text-anchor="end">0.50</text>
<text transform="translate(185.00,1173.2) scale(1.0370,1)" font-size="48.00" text-anchor="middle">0.15</text>
<text transform="translate(431.70,1173.2) scale(1.0370,1)" font-size="48.00" text-anchor="middle">0.20</text>
<text transform="translate(677.90,1173.2) scale(1.0370,1)" font-size="48.00" text-anchor="middle">0.25</text>
<text transform="translate(924.10,1173.2) scale(1.0370,1)" font-size="48.00" text-anchor="middle">0.30</text>
<text transform="translate(1170.30,1173.2) scale(1.0370,1)" font-size="48.00" text-anchor="middle">0.35</text>
<text transform="translate(1416.50,1173.2) scale(1.0370,1)" font-size="48.00" text-anchor="middle">0.40</text>
<text transform="translate(807.2,1251.8) scale(0.9920,1)" font-size="66.00" text-anchor="middle" stroke="#000" stroke-width="0.7">blocking ratio</text>
<text transform="translate(56,569.5) rotate(-90) scale(0.9970,1)" font-size="66.00" text-anchor="middle" stroke="#000" stroke-width="0.7">crosstalk ratio</text>
<rect x="952.3" y="94" width="523.3" height="312.2" fill="#fff" stroke="#000" stroke-width="2.6" shape-rendering="crispEdges"/>
<polygon points="1003.7,122.0 1023.3,122.0 1023.3,124.2 1014.5,139.6 1012.5,139.6 1003.7,124.2" fill="#000000" shape-rendering="crispEdges"/>
<text transform="translate(1118.50,144.80) scale(1.0230,1)" font-size="48.20">1000 generations</text>
<polygon points="1003.7,183.0 1023.3,183.0 1023.3,185.2 1014.5,200.6 1012.5,200.6 1003.7,185.2" fill="#ff00ff" shape-rendering="crispEdges"/>
<text transform="translate(1118.00,205.80) scale(1.0230,1)" font-size="48.20">5000 generations</text>
<polygon points="1003.7,244.0 1023.3,244.0 1023.3,246.2 1014.5,261.6 1012.5,261.6 1003.7,246.2" fill="#00ff00" shape-rendering="crispEdges"/>
<text transform="translate(1094.40,266.80) scale(1.0230,1)" font-size="48.20">10,000 generations</text>
<polygon points="1003.7,305.0 1023.3,305.0 1023.3,307.2 1014.5,322.6 1012.5,322.6 1003.7,307.2" fill="#ff0000" shape-rendering="crispEdges"/>
<text transform="translate(1093.40,327.80) scale(1.0230,1)" font-size="48.20">50,000 generations</text>
<polygon points="1003.7,366.0 1023.3,366.0 1023.3,368.2 1014.5,383.6 1012.5,383.6 1003.7,368.2" fill="#00ffff" shape-rendering="crispEdges"/>
<text transform="translate(1069.50,388.80) scale(1.0230,1)" font-size="48.20">100,000 generations</text>
</svg></body></html>
